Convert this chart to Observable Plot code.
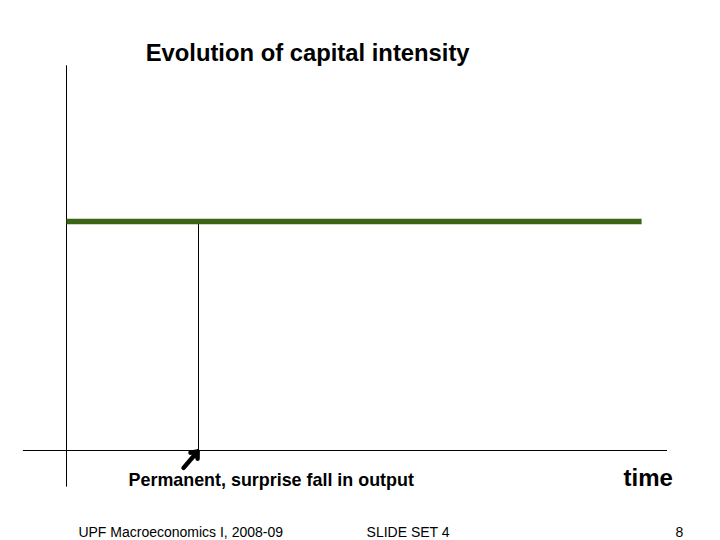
<!DOCTYPE html>
<html>
<head>
<meta charset="utf-8">
<script src="https://cdn.jsdelivr.net/npm/d3@7"></script>
<script src="https://cdn.jsdelivr.net/npm/@observablehq/plot@0.6"></script>
<style>
  html, body { margin: 0; padding: 0; background: #ffffff; }
  svg { display: block; }
</style>
</head>
<body>
<div id="chart"></div>
<script>
// ---- data (time in arbitrary periods, capital intensity relative to steady state) ----
const timeAxisExtent = [-0.98, 13.66];
const kAxisExtent = [-0.16, 1.68];
const kPath = [
  {t: 0, k: 1},
  {t: 13.07, k: 1}
];
const shockTime = [3];
const shockLevel = [1];
const arrowFrom = [{t: 2.66, k: -0.076}];
const arrowTo = [{t: 2.98, k: -0.004}];
const titleText = ["Evolution of capital intensity"];
const shockLabel = ["Permanent, surprise fall in output"];
const timeLabel = ["time"];
const footerLeft = ["UPF Macroeconomics I, 2008-09"];
const footerMid = ["SLIDE SET 4"];
const pageNumber = ["8"];

// annotation anchors in data units
const annTitle = [{t: 5.48, k: 1.699, label: titleText[0]}];
const annShock = [{t: 1.41, k: -0.153, label: shockLabel[0]}];
const annTime = [{t: 12.66, k: -0.157, label: timeLabel[0]}];
const annFootL = [{t: 0.27, k: -0.376, label: footerLeft[0]}];
const annFootM = [{t: 6.82, k: -0.376, label: footerMid[0]}];
const annPage = [{t: 14.02, k: -0.376, label: pageNumber[0]}];

const font = "Liberation Sans, Arial, Helvetica, sans-serif";
const green = "#3b6414";

const chart = Plot.plot({
  width: 720,
  height: 540,
  margin: 0,
  x: {domain: [-1.5, 654 / 44], axis: null},
  y: {domain: [-90 / 229, 450 / 229], axis: null},
  style: {background: "#ffffff", fontFamily: font},
  marks: [
    // axes
    Plot.ruleY([0], {x1: timeAxisExtent[0], x2: timeAxisExtent[1], stroke: "#000", strokeWidth: 1}),
    Plot.ruleX([0], {y1: kAxisExtent[0], y2: kAxisExtent[1], stroke: "#000", strokeWidth: 1}),
    // shock marker
    Plot.ruleX(shockTime, {y1: 0, y2: shockLevel[0], stroke: "#000", strokeWidth: 1}),
    // capital intensity path
    Plot.line(kPath, {x: "t", y: "k", stroke: green, strokeWidth: 5.5, strokeLinecap: "butt"}),
    // arrow
    Plot.arrow([0], {
      x1: () => arrowFrom[0].t, y1: () => arrowFrom[0].k,
      x2: () => arrowTo[0].t, y2: () => arrowTo[0].k,
      stroke: "#000", strokeWidth: 4.5, headLength: 9, headAngle: 80, strokeLinejoin: "miter"
    }),
    // texts
    Plot.text(annTitle, {x: "t", y: "k", text: "label", textAnchor: "middle", lineAnchor: "bottom",
      fontSize: 23.8, fontWeight: "bold", fill: "#000"}),
    Plot.text(annShock, {x: "t", y: "k", text: "label", textAnchor: "start", lineAnchor: "bottom",
      fontSize: 17.9, fontWeight: "bold", fill: "#000"}),
    Plot.text(annTime, {x: "t", y: "k", text: "label", textAnchor: "start", lineAnchor: "bottom",
      fontSize: 24, fontWeight: "bold", fill: "#000"}),
    Plot.text(annFootL, {x: "t", y: "k", text: "label", textAnchor: "start", lineAnchor: "bottom",
      fontSize: 14, fill: "#000"}),
    Plot.text(annFootM, {x: "t", y: "k", text: "label", textAnchor: "start", lineAnchor: "bottom",
      fontSize: 14, fill: "#000"}),
    Plot.text(annPage, {x: "t", y: "k", text: "label", textAnchor: "end", lineAnchor: "bottom",
      fontSize: 14, fill: "#000"})
  ]
});
document.getElementById("chart").appendChild(chart);
</script>
</body>
</html>
